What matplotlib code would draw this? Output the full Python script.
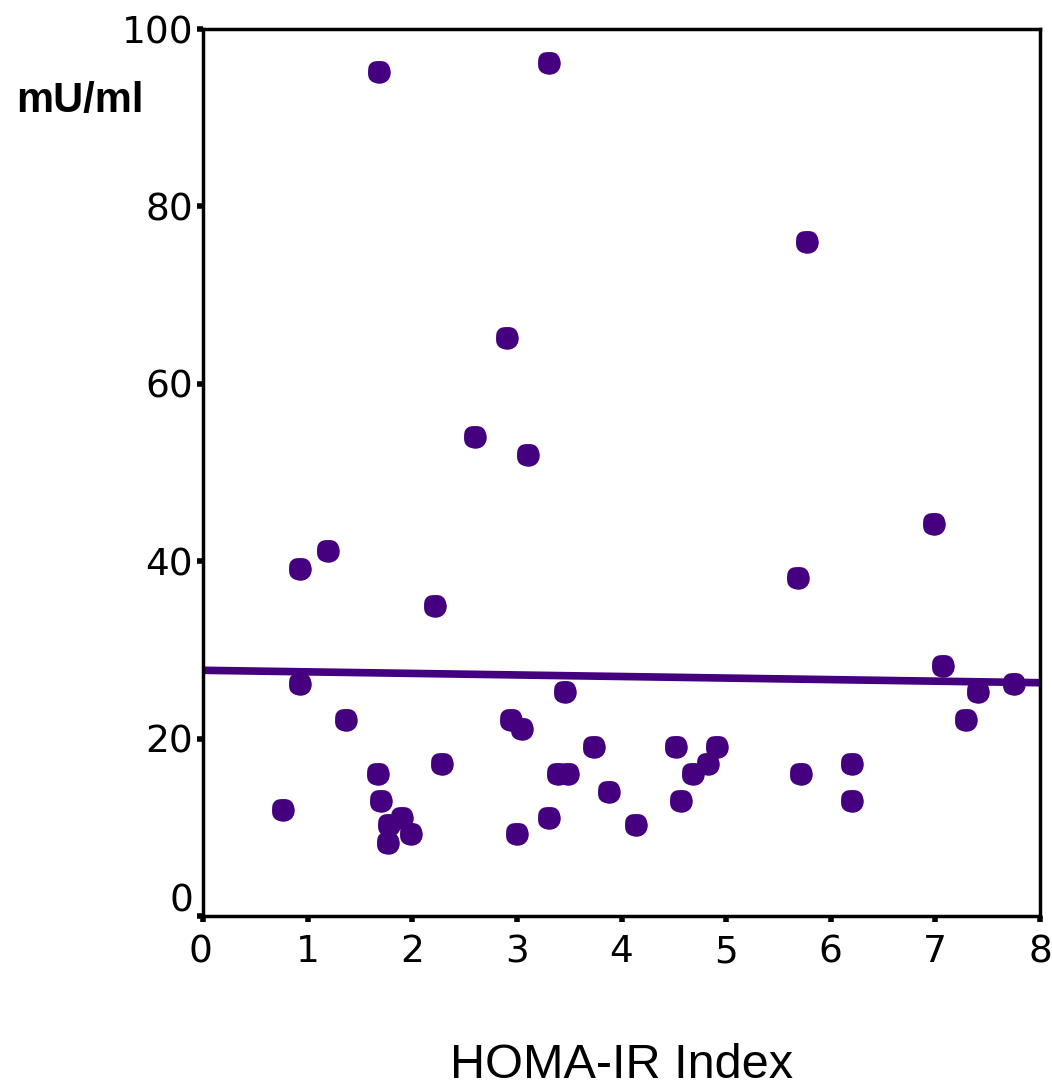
import matplotlib
matplotlib.use("Agg")
import matplotlib.pyplot as plt
from matplotlib.markers import MarkerStyle
import matplotlib.transforms as mtrans

homa_ir = [1.68, 3.31, 5.77, 2.91, 2.60, 3.11, 6.99, 1.19, 0.93, 5.69, 2.22,
           7.07, 0.93, 3.46, 7.41, 7.75, 1.37, 2.94, 3.05, 7.29, 3.74, 4.52,
           4.91, 1.67, 2.28, 3.39, 3.49, 4.68, 4.83, 5.72, 6.20, 1.70, 3.88,
           4.57, 6.20, 0.76, 1.78, 1.90, 1.99, 1.77, 3.00, 3.31, 4.14]
insulin = [95.1, 96.2, 76.0, 65.2, 54.0, 52.0, 44.2, 41.1, 39.1, 38.1, 35.0,
           28.2, 26.2, 25.2, 25.2, 26.2, 22.1, 22.1, 21.1, 22.1, 19.1, 19.1,
           19.1, 16.0, 17.1, 16.0, 16.0, 16.0, 17.1, 16.0, 17.1, 13.0, 14.0,
           13.0, 13.0, 12.0, 10.3, 11.0, 9.3, 8.2, 9.3, 11.0, 10.3]
fit_x = [0, 8]
fit_y = [27.7, 26.3]

x_ticks = [0, 1, 2, 3, 4, 5, 6, 7, 8]
y_ticks = [0, 20, 40, 60, 80, 100]

color = "#450080"
plt.rcParams["font.family"] = ["DejaVu Sans"]

fig = plt.figure(figsize=(10.52, 10.9), dpi=100)
ax = fig.add_axes([203/1052, 1-916/1090, (1040-203)/1052, (916-29)/1090])

ax.plot(fit_x, fit_y, color=color, lw=5.5, solid_capstyle="butt", zorder=2)
mk = MarkerStyle("s", joinstyle="round")
ax.plot(homa_ir, insulin, linestyle="none", marker="o", markersize=16.2,
        markeredgewidth=0, color=color, zorder=3, clip_on=False)
ax.plot(homa_ir, insulin, linestyle="none", marker=mk, markersize=4.8,
        markeredgewidth=11.2, color=color, mec=color, zorder=3, clip_on=False)

ax.set_xlim(0, 8)
ax.set_ylim(0, 100)
ax.set_xticks(x_ticks)
ax.set_yticks(y_ticks)
ax.set_xticklabels([str(v) for v in x_ticks])
ax.set_yticklabels([str(v) for v in y_ticks])
for s in ax.spines.values():
    s.set_linewidth(2.5)
ax.tick_params(direction="out", length=4, width=4, labelsize=27)
ax.tick_params(axis="y", pad=3)
ax.tick_params(axis="x", pad=9)
ylabs = ax.get_yticklabels()
ylabs[0].set_transform(ylabs[0].get_transform() + mtrans.ScaledTranslation(0, 18/100, fig.dpi_scale_trans))
xlabs = ax.get_xticklabels()
xlabs[0].set_transform(xlabs[0].get_transform() + mtrans.ScaledTranslation(-3/100, 0, fig.dpi_scale_trans))

fig.text(16/1052, 1-101/1090, "mU/ml", fontsize=30, fontweight="bold",
         family="Liberation Sans", ha="left", va="center")
fig.text(622/1052, 1-1065/1090, "HOMA-IR Index", fontsize=35,
         family="Liberation Sans", ha="center", va="center")

fig.savefig("out.png", dpi=100)
